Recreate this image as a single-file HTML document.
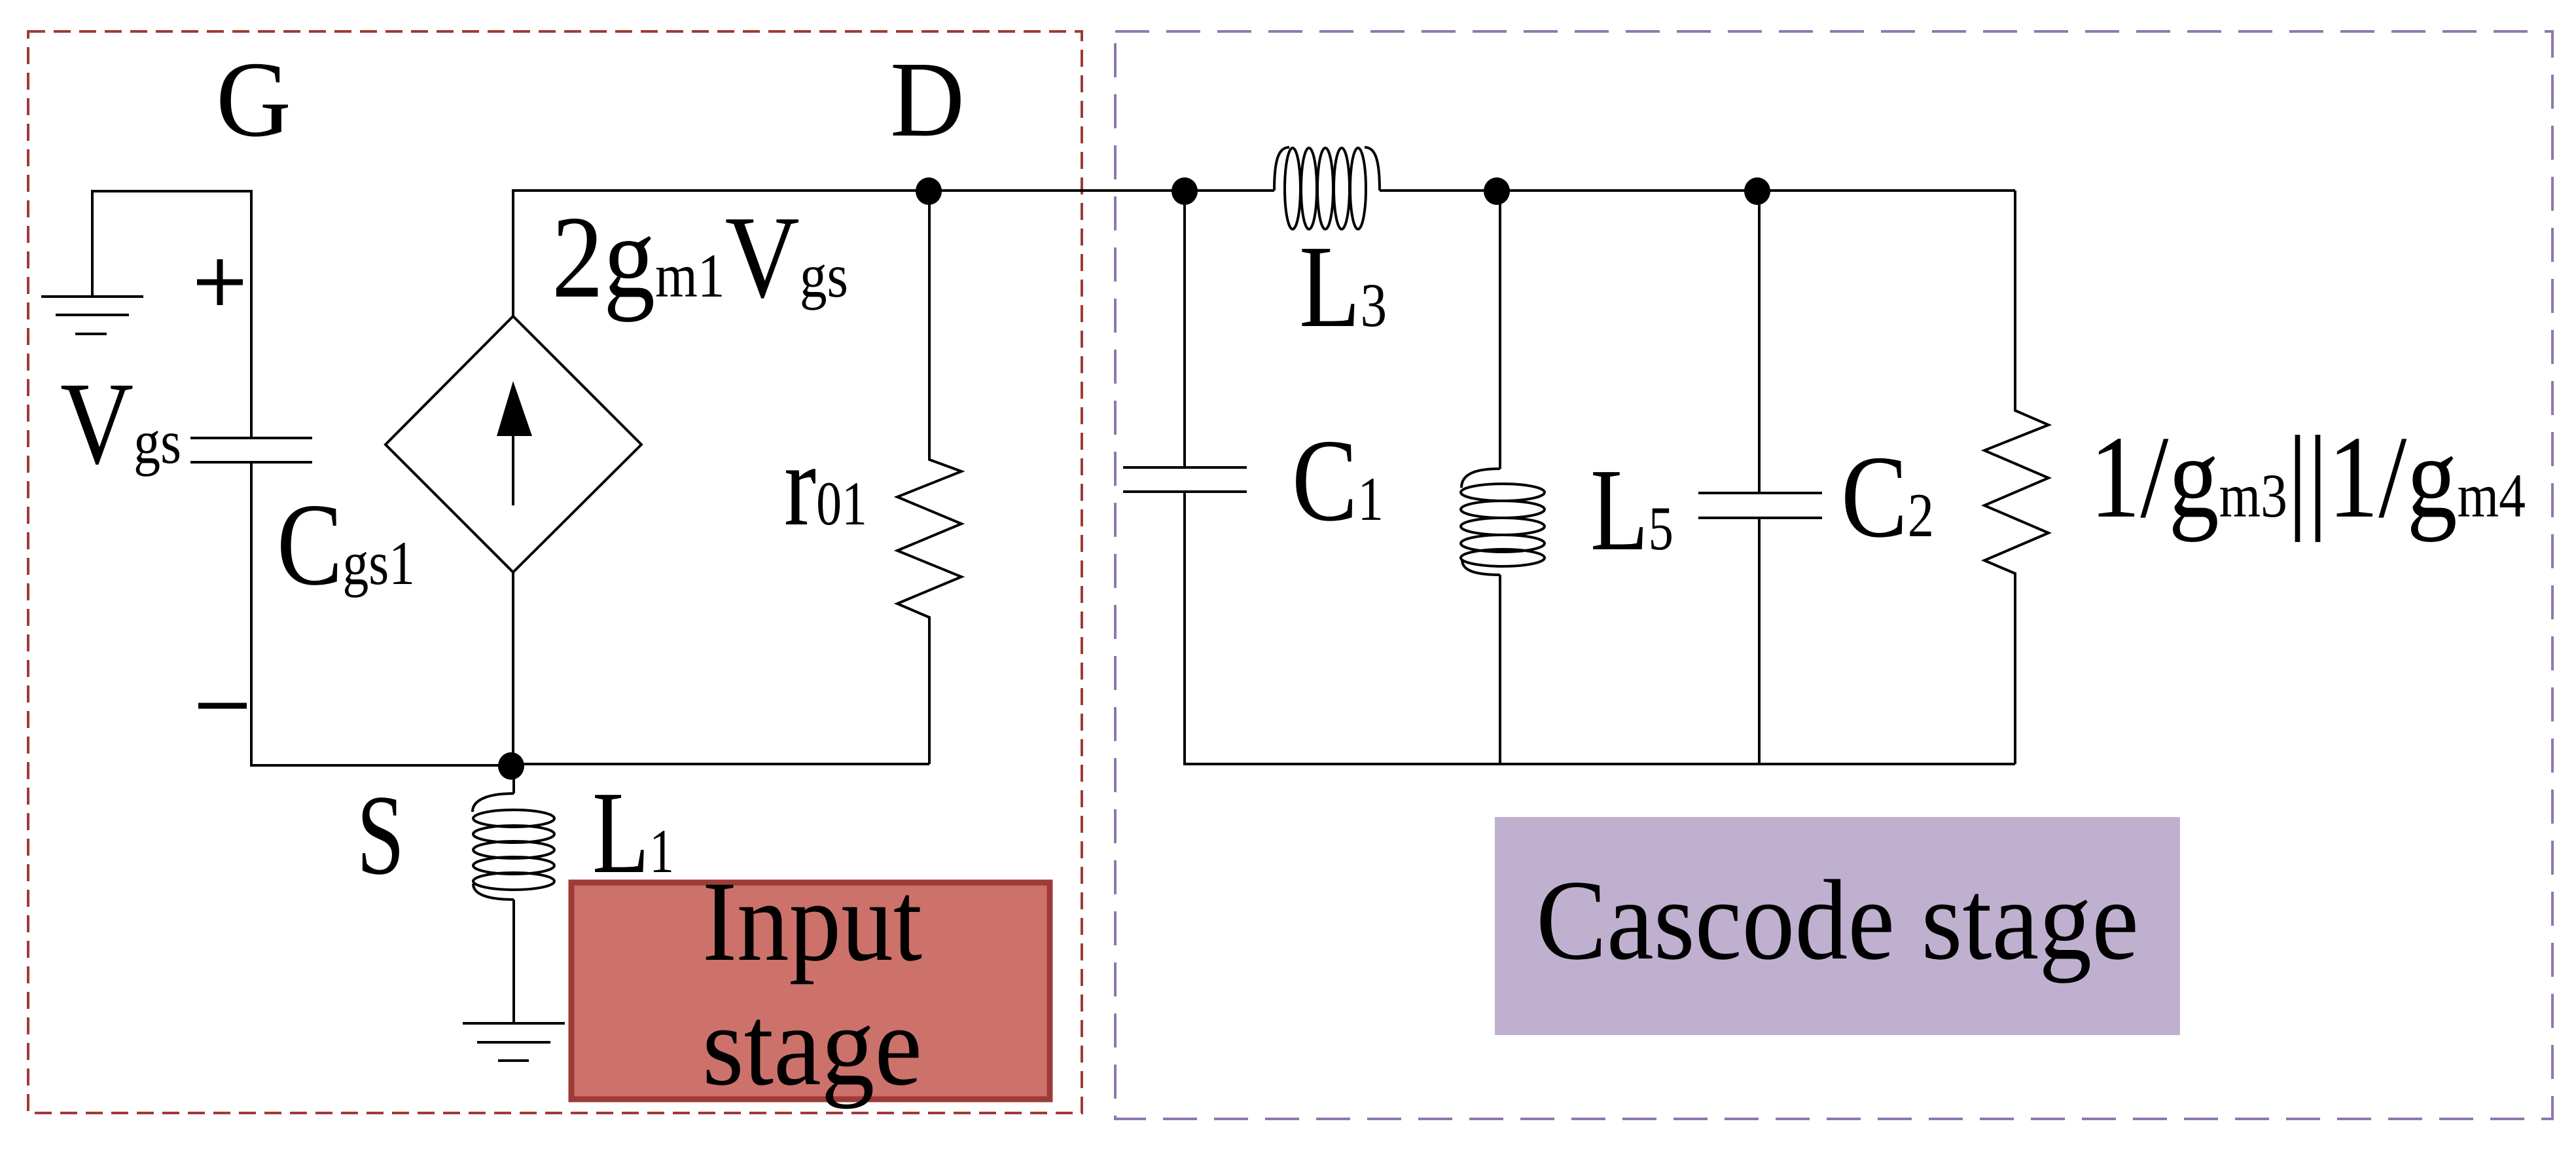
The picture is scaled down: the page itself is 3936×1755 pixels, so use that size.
<!DOCTYPE html>
<html><head><meta charset="utf-8"><style>
html,body{margin:0;padding:0;background:#fff}
svg{display:block}
text{font-family:"Liberation Serif",serif;fill:#000}
</style></head><body>
<svg width="3936" height="1755" viewBox="0 0 3936 1755" xmlns="http://www.w3.org/2000/svg">
<!-- dashed boxes -->
<rect x="43" y="48" width="1610" height="1652" fill="none" stroke="#9e3b36" stroke-width="4" stroke-dasharray="26 13"/>
<rect x="1704" y="48" width="2196" height="1661" fill="none" stroke="#8e78ad" stroke-width="4" stroke-dasharray="52 26"/>

<!-- label boxes -->
<rect x="873" y="1348" width="731" height="331" fill="#cc726b" stroke="#9e3b36" stroke-width="9"/>
<rect x="2284" y="1248" width="1047" height="333" fill="#bfb0d0"/>

<g stroke="#000" stroke-width="4" fill="none">
<!-- ground G -->
<polyline points="141,453 141,292 384,292 384,669"/>
<line x1="63" y1="453" x2="219" y2="453"/>
<line x1="85" y1="481" x2="197" y2="481"/>
<line x1="115" y1="510" x2="163" y2="510"/>
<!-- Cgs -->
<line x1="291" y1="669" x2="477" y2="669"/>
<line x1="291" y1="706" x2="477" y2="706"/>
<polyline points="384,706 384,1169 784,1169"/>
<line x1="784" y1="1167" x2="1420" y2="1167"/>
<!-- top wire -->
<polyline points="784,483 784,291 1947,291"/>
<line x1="2108" y1="291" x2="3079" y2="291"/>
<!-- diamond -->
<polygon points="784,483 980,679 784,874 589,679"/>
<line x1="784" y1="874" x2="784" y2="1169"/>
<line x1="784" y1="772" x2="784" y2="660"/>
<!-- r01 -->
<polyline points="1420,291 1420,702 1469,720 1371,759 1469,800 1371,841 1469,881 1371,922 1420,943 1420,1167"/>
<!-- L1 -->
<line x1="785" y1="1169" x2="785" y2="1212"/>
<path d="M785,1212 C745,1212 722,1222 722,1240"/>
<ellipse cx="785" cy="1250" rx="62" ry="13"/>
<ellipse cx="785" cy="1274" rx="62" ry="13"/>
<ellipse cx="785" cy="1298" rx="62" ry="13"/>
<ellipse cx="785" cy="1322" rx="62" ry="13"/>
<ellipse cx="785" cy="1346" rx="62" ry="13"/>
<path d="M723,1350 C723,1366 745,1374 785,1374"/>
<line x1="785" y1="1374" x2="785" y2="1563"/>
<line x1="707" y1="1563" x2="863" y2="1563"/>
<line x1="729" y1="1592" x2="841" y2="1592"/>
<line x1="761" y1="1620" x2="808" y2="1620"/>
<!-- L3 -->
<path d="M1947,291 C1947,240 1955,225 1970,225"/>
<ellipse cx="1975" cy="288" rx="12" ry="62"/>
<ellipse cx="2000" cy="288" rx="12" ry="62"/>
<ellipse cx="2025" cy="288" rx="12" ry="62"/>
<ellipse cx="2050" cy="288" rx="12" ry="62"/>
<ellipse cx="2075" cy="288" rx="12" ry="62"/>
<path d="M2085,225 C2100,225 2108,240 2108,291"/>
<!-- C1 -->
<line x1="1810" y1="291" x2="1810" y2="714"/>
<line x1="1716" y1="714" x2="1905" y2="714"/>
<line x1="1716" y1="751" x2="1905" y2="751"/>
<polyline points="1810,751 1810,1167 3079,1167"/>
<!-- L5 -->
<line x1="2292" y1="291" x2="2292" y2="716"/>
<path d="M2292,716 C2250,716 2233,726 2233,745"/>
<ellipse cx="2296" cy="752" rx="64" ry="13"/>
<ellipse cx="2296" cy="778" rx="64" ry="13"/>
<ellipse cx="2296" cy="804" rx="64" ry="13"/>
<ellipse cx="2296" cy="830" rx="64" ry="13"/>
<ellipse cx="2296" cy="852" rx="64" ry="13"/>
<path d="M2234,855 C2234,870 2250,878 2292,878"/>
<line x1="2292" y1="878" x2="2292" y2="1167"/>
<!-- C2 -->
<line x1="2688" y1="291" x2="2688" y2="753"/>
<line x1="2595" y1="753" x2="2784" y2="753"/>
<line x1="2595" y1="791" x2="2784" y2="791"/>
<line x1="2688" y1="791" x2="2688" y2="1167"/>
<!-- R -->
<polyline points="3079,291 3079,627 3130,649 3032,688 3130,730 3032,772 3130,814 3032,856 3079,876 3079,1167"/>
</g>
<!-- arrow head -->
<polygon points="784,582 759,666 813,666" fill="#000"/>
<!-- nodes -->
<g fill="#000">
<ellipse cx="781" cy="1170" rx="20" ry="21"/>
<ellipse cx="1419" cy="292" rx="20" ry="21"/>
<ellipse cx="1810" cy="292" rx="20" ry="21"/>
<ellipse cx="2287" cy="292" rx="20" ry="21"/>
<ellipse cx="2685" cy="292" rx="20" ry="21"/>
</g>
<!-- plus / minus -->
<g stroke="#000" stroke-width="9">
<line x1="301" y1="431" x2="371" y2="431"/>
<line x1="336" y1="396" x2="336" y2="466"/>
<line x1="303" y1="1078" x2="377" y2="1078"/>
</g>

<!-- labels -->
<text x="330" y="207" font-size="165" textLength="115" lengthAdjust="spacingAndGlyphs">G</text>
<text x="1360" y="207" font-size="165" textLength="114" lengthAdjust="spacingAndGlyphs">D</text>
<text x="545" y="1334" font-size="175" textLength="73" lengthAdjust="spacingAndGlyphs">S</text>
<text x="92" y="707" font-size="180" textLength="185" lengthAdjust="spacingAndGlyphs">V<tspan font-size="95">gs</tspan></text>
<text x="423" y="892" font-size="180" textLength="211" lengthAdjust="spacingAndGlyphs">C<tspan font-size="95">gs1</tspan></text>
<text x="843" y="453" font-size="180" textLength="453" lengthAdjust="spacingAndGlyphs">2g<tspan font-size="95">m1</tspan>V<tspan font-size="95">gs</tspan></text>
<text x="1198" y="801" font-size="180" textLength="127" lengthAdjust="spacingAndGlyphs">r<tspan font-size="95">01</tspan></text>
<text x="905" y="1332" font-size="180" textLength="125" lengthAdjust="spacingAndGlyphs">L<tspan font-size="95">1</tspan></text>
<text x="1985" y="498" font-size="180" textLength="134" lengthAdjust="spacingAndGlyphs">L<tspan font-size="95">3</tspan></text>
<text x="1974" y="794" font-size="180" textLength="140" lengthAdjust="spacingAndGlyphs">C<tspan font-size="95">1</tspan></text>
<text x="2430" y="839" font-size="180" textLength="127" lengthAdjust="spacingAndGlyphs">L<tspan font-size="95">5</tspan></text>
<text x="2813" y="819" font-size="180" textLength="142" lengthAdjust="spacingAndGlyphs">C<tspan font-size="95">2</tspan></text>
<text x="3193" y="789" font-size="180" textLength="666" lengthAdjust="spacingAndGlyphs">1/g<tspan font-size="95">m3</tspan>||1/g<tspan font-size="95">m4</tspan></text>
<text x="1073" y="1466" font-size="175" textLength="336" lengthAdjust="spacingAndGlyphs">Input</text>
<text x="1073" y="1656" font-size="175" textLength="336" lengthAdjust="spacingAndGlyphs">stage</text>
<text x="2347" y="1464" font-size="175" textLength="921" lengthAdjust="spacingAndGlyphs">Cascode stage</text>
</svg>
</body></html>
